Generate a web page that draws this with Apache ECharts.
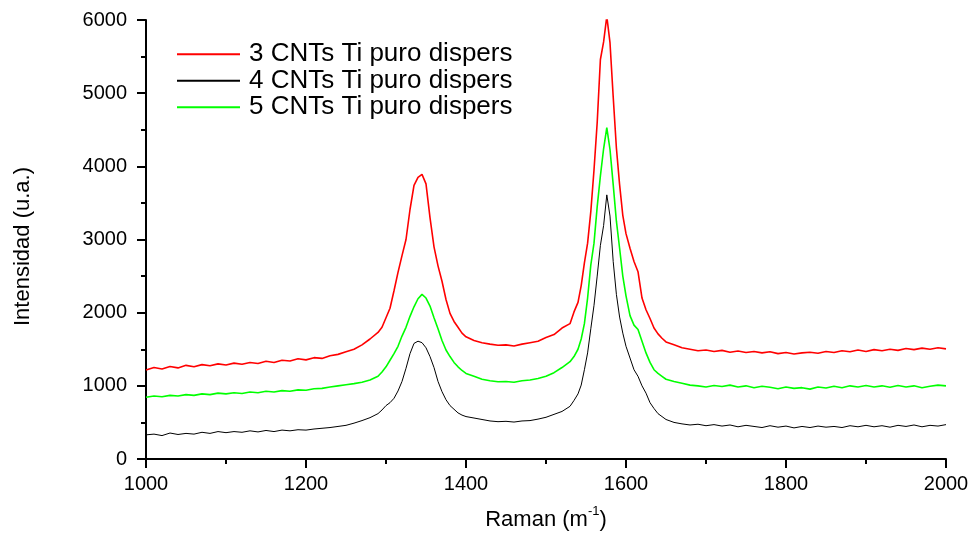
<!DOCTYPE html>
<html>
<head>
<meta charset="utf-8">
<script src="https://cdn.jsdelivr.net/npm/echarts@6/dist/echarts.min.js"></script>
<style>
html,body{margin:0;padding:0;background:#fff;}
#chart{width:975px;height:536px;}
</style>
</head>
<body>
<div id="chart"></div>
<script>
// Raman shift (x values shared by all series)
const ramanShift = [
  1000,1010,1020,1030,1040,1050,1060,1070,1080,1090,1100,1110,1120,1130,1140,1150,1160,1170,1180,1190,1200,1210,1220,1230,1240,1250,1260,1270,1280,
  1290,1295,1300,1305,1310,1315,1320,1325,1330,1335,1340,1345,1350,1355,1360,1365,1370,1375,1380,1385,1390,1395,1400,
  1410,1420,1430,1440,1450,1460,1470,1480,1490,1500,1510,1520,1530,
  1535,1540,1544,1548,1552,1556,1560,1564,1568,1572,1576,1580,1584,1588,1592,1596,1600,1605,1610,1615,1620,1625,1630,1635,1640,1645,1650,
  1660,1670,1680,1690,1700,1710,1720,1730,1740,1750,1760,1770,1780,1790,1800,1810,1820,1830,1840,1850,1860,1870,1880,1890,1900,1910,1920,1930,1940,1950,1960,1970,1980,1990,2000
];
const seriesNames = ['3 CNTs Ti puro dispers', '4 CNTs Ti puro dispers', '5 CNTs Ti puro dispers'];
const cnt3 = [
  1215,1250,1230,1265,1245,1280,1260,1290,1275,1300,1285,1310,1295,1320,1305,1335,1320,1350,1340,1370,1355,1385,1375,1410,1430,1465,1500,1560,1640,
  1730,1800,1930,2060,2300,2550,2780,3000,3410,3740,3850,3890,3760,3300,2900,2640,2430,2180,1990,1880,1800,1720,1670,
  1620,1590,1570,1555,1560,1545,1570,1590,1610,1660,1700,1790,1850,
  2010,2140,2370,2680,2950,3380,3950,4600,5460,5700,6050,5690,4950,4250,3750,3330,3080,2880,2700,2560,2200,2040,1920,1790,1710,1650,1600,
  1560,1520,1500,1480,1490,1470,1485,1460,1475,1455,1470,1450,1465,1440,1455,1435,1450,1460,1445,1470,1455,1480,1465,1490,1470,1495,1480,1500,1485,1510,1495,1515,1500,1520,1505
];
const cnt4 = [
  330,340,320,355,335,350,340,365,350,375,360,375,365,385,370,390,375,395,385,400,395,410,420,430,445,460,490,525,565,
  620,670,730,770,830,930,1060,1240,1440,1580,1610,1590,1520,1400,1250,1060,920,810,730,680,630,600,580,
  560,540,520,510,515,505,520,525,545,570,610,650,720,
  800,890,1010,1220,1450,1780,2100,2500,2920,3190,3610,3320,2700,2250,1940,1720,1540,1380,1220,1130,1000,900,770,690,620,580,540,
  500,480,465,475,455,470,450,465,440,460,445,430,455,435,450,425,445,430,450,435,445,430,455,440,460,440,455,435,460,445,465,440,460,450,470
];
const cnt5 = [
  845,860,850,870,860,880,870,890,880,900,890,905,895,915,905,925,915,935,925,945,940,960,965,985,1000,1015,1030,1050,1080,
  1130,1190,1260,1350,1440,1540,1680,1800,1950,2080,2190,2250,2200,2090,1930,1780,1620,1490,1400,1320,1260,1210,1170,
  1130,1090,1070,1055,1060,1050,1070,1080,1100,1130,1180,1250,1330,
  1400,1500,1640,1850,2200,2650,2950,3450,3870,4240,4530,4230,3750,3250,2880,2500,2230,1960,1830,1770,1610,1450,1320,1220,1170,1130,1090,
  1060,1035,1010,1000,985,1005,990,1010,985,1000,975,995,980,960,985,965,975,955,985,970,995,975,1000,985,1005,985,1000,980,1005,985,1000,975,995,1010,1000
];

const FONT = "'Liberation Sans', Arial, Helvetica, sans-serif";
const pair = arr => ramanShift.map((x, i) => [x, arr[i]]);
const colors = ['#ff0000', '#000000', '#00ff00'];

const chart = echarts.init(document.getElementById('chart'), null, {renderer: 'canvas'});
chart.setOption({
  animation: false,
  backgroundColor: '#ffffff',
  textStyle: {fontFamily: FONT},
  grid: {left: 146, right: 29, top: 20, bottom: 75.5, containLabel: false},
  legend: {
    orient: 'vertical',
    left: 177,
    top: 41,
    padding: 0,
    itemWidth: 63,
    itemHeight: 2,
    itemGap: 0,
    textStyle: {fontFamily: FONT, fontSize: 26, color: '#000', lineHeight: 26.5, padding: [0, 0, 0, 4]},
    data: seriesNames.map((n, i) => ({name: n, icon: 'rect', itemStyle: {color: colors[i]}}))
  },
  xAxis: {
    type: 'value',
    min: 1000, max: 2000, interval: 200,
    name: '{n|Raman (m}{s|-1}{n|)}',
    nameLocation: 'middle',
    nameGap: 46,
    nameTextStyle: {
      rich: {
        n: {fontFamily: FONT, fontSize: 22, color: '#000', lineHeight: 26, verticalAlign: 'bottom'},
        s: {fontFamily: FONT, fontSize: 13, color: '#000', lineHeight: 26, verticalAlign: 'top'}
      }
    },
    axisLine: {show: true, onZero: false, lineStyle: {color: '#000', width: 2}},
    axisTick: {show: true, inside: false, length: 9, lineStyle: {color: '#000', width: 2}},
    minorTick: {show: true, splitNumber: 2, length: 5, lineStyle: {color: '#000', width: 2}},
    axisLabel: {fontFamily: FONT, fontSize: 20, color: '#000', margin: 15, formatter: v => String(v)},
    splitLine: {show: false},
    minorSplitLine: {show: false}
  },
  yAxis: {
    type: 'value',
    min: 0, max: 6000, interval: 1000,
    name: 'Intensidad (u.a.)',
    nameLocation: 'middle',
    nameRotate: 90,
    nameGap: 112,
    nameTextStyle: {fontFamily: FONT, fontSize: 22, color: '#000', padding: [0, 14, 0, 0]},
    axisLine: {show: true, onZero: false, lineStyle: {color: '#000', width: 2}},
    axisTick: {show: true, inside: false, length: 9, lineStyle: {color: '#000', width: 2}},
    minorTick: {show: true, splitNumber: 2, length: 5, lineStyle: {color: '#000', width: 2}},
    axisLabel: {fontFamily: FONT, fontSize: 20, color: '#000', margin: 19, formatter: v => String(v)},
    splitLine: {show: false},
    minorSplitLine: {show: false}
  },
  series: [
    {name: seriesNames[0], type: 'line', data: pair(cnt3), symbol: 'none', clip: true,
     lineStyle: {color: colors[0], width: 1.6}, itemStyle: {color: colors[0]}, z: 3},
    {name: seriesNames[1], type: 'line', data: pair(cnt4), symbol: 'none', clip: true,
     lineStyle: {color: colors[1], width: 1}, itemStyle: {color: colors[1]}, z: 2},
    {name: seriesNames[2], type: 'line', data: pair(cnt5), symbol: 'none', clip: true,
     lineStyle: {color: colors[2], width: 1.6}, itemStyle: {color: colors[2]}, z: 2}
  ]
});
</script>
</body>
</html>
